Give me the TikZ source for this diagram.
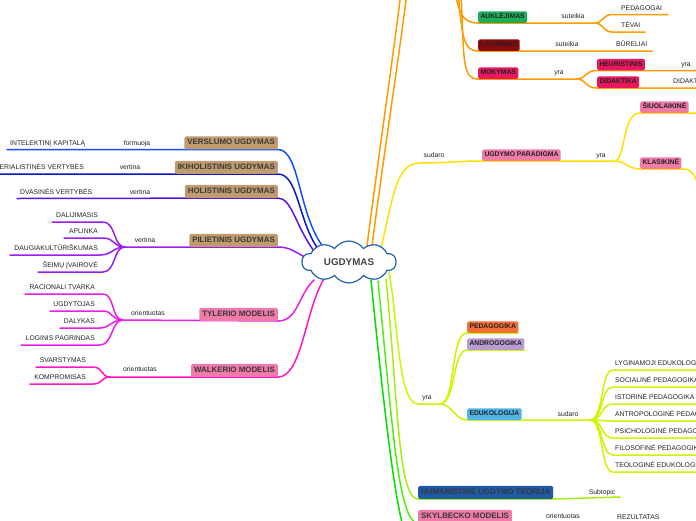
\documentclass[tikz,border=0pt]{standalone}
\usepackage{fontspec}
\setmainfont{Liberation Sans}
\usetikzlibrary{shapes.symbols}
\pgfdeclarelayer{bg}
\pgfsetlayers{bg,main}
\definecolor{cloudblue}{HTML}{1F64AD}
\definecolor{tanbox}{HTML}{BF9B6F}
\definecolor{cVer}{HTML}{1450FF}
\definecolor{cIki}{HTML}{0A14D2}
\definecolor{cHol}{HTML}{5A14E6}
\definecolor{cPil}{HTML}{9B1EF0}
\definecolor{cTyl}{HTML}{E61EE6}
\definecolor{cWal}{HTML}{FF14C8}
\definecolor{cOr}{HTML}{FF9A00}
\definecolor{cYe}{HTML}{FFE000}
\definecolor{cYg}{HTML}{CCF500}
\definecolor{cGa}{HTML}{A6EE10}
\definecolor{cGb}{HTML}{50EE10}
\definecolor{cGc}{HTML}{00E000}
\definecolor{pinkbox}{HTML}{F07AAA}
\definecolor{greenbox}{HTML}{1DAE5A}
\definecolor{darkred}{HTML}{8A0A0A}
\definecolor{crimson}{HTML}{E8185C}
\definecolor{orangebox}{HTML}{F07038}
\definecolor{lavender}{HTML}{B79BD1}
\definecolor{lightblue}{HTML}{50B4E8}
\definecolor{darkbluebox}{HTML}{1F5AA8}
\definecolor{txt}{HTML}{222222}
\definecolor{txtb}{HTML}{383838}
\definecolor{ugtxt}{HTML}{444444}
\tikzset{
  br/.style={line width=1.5pt, line cap=round},
  lab/.style={font=\fontsize{6.8}{7}\selectfont, text=txt, inner sep=0pt},
  sbox/.style={rounded corners=1.5pt, inner xsep=2.3pt, inner ysep=0pt,
    text height=5.1pt, text depth=1.3pt, minimum height=11.5pt,
    font=\fontsize{6.8}{7}\selectfont\bfseries, text=txt},
  bbox/.style={sbox, minimum height=13pt, text height=5.7pt, text depth=1.5pt,
    inner xsep=3pt, font=\fontsize{7.9}{8}\selectfont\bfseries, text=txtb},
}
\begin{document}
\begin{tikzpicture}[x=1pt,y=-1pt]
\useasboundingbox (0,0) rectangle (696,520);
% central
\node[cloud, draw=cloudblue, line width=1.2pt, fill=white, cloud puffs=10,
  cloud puff arc=110, aspect=2.3, minimum width=94pt, minimum height=42pt,
  inner sep=0pt, font=\fontsize{9.8}{10}\selectfont\bfseries, text=ugtxt] (ugd) at (349,262) {UGDYMAS};

% ---------- left side
\node[bbox, fill=tanbox, anchor=south east] (ver) at (278,149.5) {VERSLUMO UGDYMAS};
\node[lab, anchor=base west] (intel) at (10,145) {INTELEKTINĮ KAPITALĄ};
\node[lab, anchor=base] (formuoja) at (137,145) {formuoja};
\coordinate (verL) at (7,149.5);
\coordinate (verC) at (324,248);

\node[bbox, fill=tanbox, anchor=south east] (iki) at (278,174) {IKIHOLISTINIS UGDYMAS};
\node[lab, anchor=base east] (mat) at (84,169.5) {MATERIALISTINĖS VERTYBĖS};
\node[lab, anchor=base] (vert1) at (130,169.5) {vertina};
\coordinate (ikiL) at (-3,174);
\coordinate (ikiC) at (318,249);

\node[bbox, fill=tanbox, anchor=south east] (hol) at (278,198) {HOLISTINIS UGDYMAS};
\node[lab, anchor=base west] (dvas) at (20,194) {DVASINĖS VERTYBĖS};
\node[lab, anchor=base] (vert2) at (140,194) {vertina};
\coordinate (holL) at (17,198.5);
\coordinate (holC) at (314,251);

\node[bbox, fill=tanbox, anchor=south east] (pil) at (278,247) {PILIETINIS UGDYMAS};
\node[lab, anchor=base] (vert3) at (145,242.5) {vertina};
\coordinate (pilF) at (125,247);
\coordinate (pilC) at (310,260);
\node[lab, anchor=base east] (dal) at (98,217) {DALIJIMASIS};
\node[lab, anchor=base east] (apl) at (98,233.5) {APLINKA};
\node[lab, anchor=base east] (dau) at (98,250.5) {DAUGIAKULTŪRIŠKUMAS};
\node[lab, anchor=base east] (sei) at (98,267) {ŠEIMŲ ĮVAIROVĖ};

\node[bbox, fill=pinkbox, anchor=south east] (tyl) at (278,321) {TYLERIO MODELIS};
\node[lab, anchor=base] (ori1) at (148,315.5) {orientuotas};
\coordinate (tylF) at (123,320);
\coordinate (tylC) at (314,280);
\node[lab, anchor=base east] (rac) at (95,289.5) {RACIONALI TVARKA};
\node[lab, anchor=base east] (ugt) at (95,306.5) {UGDYTOJAS};
\node[lab, anchor=base east] (dly) at (95,323.5) {DALYKAS};
\node[lab, anchor=base east] (log) at (95,340.5) {LOGINIS PAGRINDAS};

\node[bbox, fill=pinkbox, anchor=south east] (wal) at (278,377) {WALKERIO MODELIS};
\node[lab, anchor=base] (ori2) at (140,371.5) {orientuotas};
\coordinate (walF) at (110,377);
\coordinate (walC) at (324,279);
\node[lab, anchor=base east] (sva) at (86,362.5) {SVARSTYMAS};
\node[lab, anchor=base east] (kom) at (86,379.5) {KOMPROMISAS};

% ---------- right: orange
\coordinate (or1C) at (367,246);
\coordinate (or2C) at (372,246);
\coordinate (or1T) at (401,-8);
\coordinate (or2T) at (407,-8);
\coordinate (topA) at (455,-8);
\coordinate (topB) at (458,-8);
\coordinate (topC) at (461,-8);
\node[sbox, fill=greenbox, anchor=south west] (auk) at (478,23) {AUKLĖJIMAS};
\node[lab, anchor=base] (sut1) at (573,18) {suteikia};
\coordinate (aukF) at (595,23);
\node[lab, anchor=base west] (pedg) at (621,10) {PEDAGOGAI};
\node[lab, anchor=base west] (tev) at (621,27.5) {TĖVAI};
\node[sbox, fill=darkred, anchor=south west] (lav) at (478,51) {LAVINIMAS};
\node[lab, anchor=base] (sut2) at (567,46) {suteikia};
\node[lab, anchor=base west] (bur) at (616,46) {BŪRELIAI};
\coordinate (lavR) at (652,51);
\node[sbox, fill=crimson, anchor=south west] (mok) at (478,79) {MOKYMAS};
\node[lab, anchor=base] (yra1) at (559,74) {yra};
\coordinate (mokF) at (577,79);
\node[sbox, fill=crimson, anchor=south west] (heu) at (597,70.5) {HEURISTINIS};
\node[lab, anchor=base] (yra2) at (686,66) {yra};
\node[sbox, fill=crimson, anchor=south west] (did) at (597,88) {DIDAKTIKA};
\node[lab, anchor=base west] (didt) at (673,83) {DIDAKTINIS};

% ---------- right: yellow
\coordinate (yeC) at (380,252);
\node[sbox, fill=pinkbox, anchor=south west] (par) at (482,161) {UGDYMO PARADIGMA};
\node[lab, anchor=base] (sud1) at (434,157) {sudaro};
\node[lab, anchor=base] (yra3) at (601,157) {yra};
\coordinate (parF) at (615,161);
\node[sbox, fill=pinkbox, anchor=south west] (siu) at (640,113) {ŠIUOLAIKINĖ};
\node[sbox, fill=pinkbox, anchor=south west] (kla) at (640,169) {KLASIKINĖ};

% ---------- right: yellow-green
\coordinate (ygC) at (389,272);
\node[lab, anchor=base] (yra4) at (427,399) {yra};
\coordinate (ygF) at (440,404);
\node[sbox, fill=orangebox, anchor=south west] (pedk) at (467,333) {PEDAGOGIKA};
\node[sbox, fill=lavender, anchor=south west] (andr) at (467,350) {ANDROGOGIKA};
\node[sbox, fill=lightblue, anchor=south west] (edu) at (467,420) {EDUKOLOGIJA};
\node[lab, anchor=base] (sud2) at (568,416) {sudaro};
\coordinate (eduF) at (590,420);
\node[lab, anchor=base west] (e1) at (615,365.5) {LYGINAMOJI EDUKOLOGIJA};
\node[lab, anchor=base west] (e2) at (615,382.5) {SOCIALINĖ PEDAGOGIKA};
\node[lab, anchor=base west] (e3) at (615,399.5) {ISTORINĖ PEDAGOGIKA};
\node[lab, anchor=base west] (e4) at (615,416.5) {ANTROPOLOGINĖ PEDAGOGIKA};
\node[lab, anchor=base west] (e5) at (615,433.5) {PSICHOLOGINĖ PEDAGOGIKA};
\node[lab, anchor=base west] (e6) at (615,450.5) {FILOSOFINĖ PEDAGOGIKA};
\node[lab, anchor=base west] (e7) at (615,467.5) {TEOLOGINĖ EDUKOLOGIJA};

% ---------- bottom greens
\coordinate (humC) at (386,279);
\node[bbox, fill=darkbluebox, anchor=south west] (hum) at (418,499) {HUMANISTINĖ UGDYMO TEORIJA};
\node[lab, anchor=base] (subt) at (602,494) {Subtopic};
\coordinate (humR) at (620,497);
\coordinate (skyC) at (378,281);
\node[bbox, fill=pinkbox, anchor=south west] (sky) at (418,523) {SKYLBECKO MODELIS};
\node[lab, anchor=base] (ori3) at (563,518) {orientuotas};
\node[lab, anchor=base west] (rez) at (617,519) {REZULTATAS};
\coordinate (g3C) at (371,280);
\coordinate (g3E) at (404,530);

\begin{pgfonlayer}{bg}
% left
\draw[br,cVer] (verC) .. controls (298,215) and (300,149.5) .. (ver.south east) -- (verL);
\draw[br,cIki] (ikiC) .. controls (298,220) and (298,174) .. (iki.south east) -- (ikiL);
\draw[br,cHol] (holC) .. controls (295,225) and (292,198.5) .. (hol.south east) -- (holL);
\draw[br,cPil] (pilC) .. controls (295,252) and (290,247) .. (pil.south east) -- (pilF);
\draw[br,cPil] (pilF) .. controls (113,247) and (116,222) .. (103,222) -- (52,222);
\draw[br,cPil] (pilF) .. controls (113,247) and (115,238) .. (103,238) -- (64,238);
\draw[br,cPil] (pilF) .. controls (113,247) and (112,255) .. (100,255) -- (10,255);
\draw[br,cPil] (pilF) .. controls (113,247) and (116,272) .. (103,272) -- (38,272);
\draw[br,cTyl] (tylC) .. controls (298,295) and (298,321) .. (tyl.south east) -- (tylF);
\draw[br,cTyl] (tylF) .. controls (111,320) and (115,294) .. (103,294) -- (25,294);
\draw[br,cTyl] (tylF) .. controls (111,320) and (113,311) .. (103,311) -- (50,311);
\draw[br,cTyl] (tylF) .. controls (111,320) and (110,328) .. (100,328) -- (60,328);
\draw[br,cTyl] (tylF) .. controls (111,320) and (113,345) .. (100,345) -- (21,345);
\draw[br,cWal] (walC) .. controls (305,310) and (302,377) .. (wal.south east) -- (walF);
\draw[br,cWal] (walF) .. controls (101,377) and (103,367) .. (93,367) -- (36,367);
\draw[br,cWal] (walF) .. controls (101,377) and (103,384) .. (93,384) -- (30,384);
% orange
\draw[br,cOr] (or1C) .. controls (378,160) and (394,50) .. (or1T);
\draw[br,cOr] (or2C) .. controls (383,160) and (400,50) .. (or2T);
\draw[br,cOr] (topA) .. controls (459,12) and (462,23) .. (auk.south west) -- (aukF);
\draw[br,cOr] (aukF) .. controls (603,23) and (603,14.5) .. (612,14.5) -- (668,14.5);
\draw[br,cOr] (aukF) .. controls (603,23) and (603,32) .. (612,32) -- (645,32);
\draw[br,cOr] (topB) .. controls (462,35) and (463,51) .. (lav.south west) -- (lavR);
\draw[br,cOr] (topC) .. controls (464,60) and (462,79) .. (mok.south west) -- (mokF);
\draw[br,cOr] (mokF) .. controls (586,79) and (585,70.5) .. (heu.south west) -- (700,70.5);
\draw[br,cOr] (mokF) .. controls (586,79) and (585,88) .. (did.south west) -- (700,88);
% yellow
\draw[br,cYe] (yeC) .. controls (393,200) and (395,163) .. (420,163)
   .. controls (445,163) and (460,161) .. (par.south west) -- (parF);
\draw[br,cYe] (parF) .. controls (626,158) and (622,113) .. (siu.south west) -- (700,113);
\draw[br,cYe] (parF) .. controls (625,161) and (628,169) .. (kla.south west) -- (683,169)
   .. controls (692,169) and (695,175) .. (700,190);
% yellow-green
\draw[br,cYg] (ygC) .. controls (398,320) and (398,404) .. (418,404) -- (ygF);
\draw[br,cYg] (ygF) .. controls (456,404) and (450,333) .. (pedk.south west) -- (pedk.south east);
\draw[br,cYg] (ygF) .. controls (456,404) and (452,350) .. (andr.south west) -- (andr.south east);
\draw[br,cYg] (ygF) .. controls (452,404) and (455,420) .. (edu.south west) -- (eduF);
\draw[br,cYg] (eduF) .. controls (604,420) and (600,370) .. (613,370) -- (700,370);
\draw[br,cYg] (eduF) .. controls (604,420) and (600,387) .. (613,387) -- (700,387);
\draw[br,cYg] (eduF) .. controls (604,420) and (600,404) .. (613,404) -- (700,404);
\draw[br,cYg] (eduF) .. controls (604,420) and (600,421) .. (613,421) -- (700,421);
\draw[br,cYg] (eduF) .. controls (604,420) and (600,438) .. (613,438) -- (700,438);
\draw[br,cYg] (eduF) .. controls (604,420) and (600,455) .. (613,455) -- (700,455);
\draw[br,cYg] (eduF) .. controls (604,420) and (600,472) .. (613,472) -- (700,472);
% greens
\draw[br,cGa] (humC) .. controls (398,400) and (398,499) .. (hum.south west) -- (hum.south east) -- (humR);
\draw[br,cGb] (skyC) .. controls (392,420) and (398,523) .. (sky.south west) -- (sky.south east);
\draw[br,cGc] (g3C) .. controls (385,420) and (395,500) .. (g3E);
\end{pgfonlayer}
\end{tikzpicture}
\end{document}
